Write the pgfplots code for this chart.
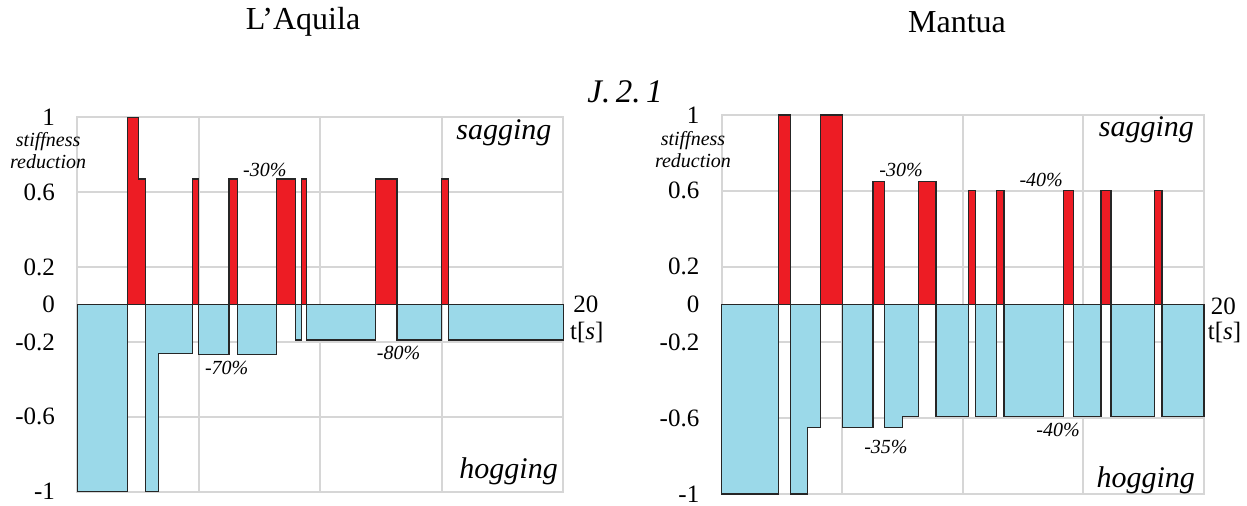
\documentclass[border=0pt]{standalone}
\usepackage{fontspec}
\setmainfont{Liberation Serif}
\usepackage{pgfplots}
\pgfplotsset{compat=1.18}
\definecolor{sagred}{RGB}{237,28,36}
\definecolor{hogblue}{RGB}{155,217,233}
\definecolor{gridgray}{RGB}{214,214,214}
\pgfplotsset{
  myax/.style={scale only axis, anchor=south west,
    xmin=0, xmax=20, ymin=-1, ymax=1,
    xtick={0,5,10,15,20}, xticklabels={},
    ytick={-1,-0.6,-0.2,0,0.2,0.6,1},
    yticklabels={-1,-0.6,-0.2,0,0.2,0.6,1},
    grid=major, grid style={gridgray, line width=0.95pt},
    axis line style={gridgray, line width=0.95pt},
    major tick length=0pt, clip=false,
    yticklabel style={font=\fontsize{12.5}{14}\selectfont, inner sep=0pt, xshift=-11pt}},
  rb/.style={fill=sagred, draw=black!85, line width=0.6pt, mark=none},
  bb/.style={fill=hogblue, draw=black!85, line width=0.6pt, mark=none},
}
\newcommand{\pct}[1]{\fontsize{10}{12}\selectfont\itshape #1}
\newcommand{\bigital}[1]{\fontsize{15}{17}\selectfont\itshape #1}
\begin{document}
\begin{tikzpicture}[x=1pt,y=1pt]
\path[use as bounding box] (0,0) rectangle (623.5,252.5);
\node[font=\fontsize{16}{18}\selectfont] at (151.5,241.5) {L’Aquila};
\node[font=\fontsize{16}{18}\selectfont] at (478.5,241.5) {Mantua};
\node[font=\fontsize{16.5}{18}\selectfont\itshape] at (312.5,206.5) {J.\,2.\,1};
% ---------------- L'Aquila ----------------
\begin{axis}[myax, at={(38.65pt,6.65pt)}, width=243pt, height=187.2pt]
% sagging (red)
\addplot[rb] coordinates {(2.07,0) (2.07,1) (2.51,1) (2.51,0.67) (2.80,0.67) (2.80,0)} -- cycle;
\addplot[rb] coordinates {(4.75,0) (4.75,0.67) (5.00,0.67) (5.00,0)} -- cycle;
\addplot[rb] coordinates {(6.24,0) (6.24,0.67) (6.60,0.67) (6.60,0)} -- cycle;
\addplot[rb] coordinates {(8.21,0) (8.21,0.67) (8.99,0.67) (8.99,0)} -- cycle;
\addplot[rb] coordinates {(9.22,0) (9.22,0.67) (9.42,0.67) (9.42,0)} -- cycle;
\addplot[rb] coordinates {(12.26,0) (12.26,0.67) (13.16,0.67) (13.16,0)} -- cycle;
\addplot[rb] coordinates {(14.98,0) (14.98,0.67) (15.27,0.67) (15.27,0)} -- cycle;
% hogging (blue)
\addplot[bb] coordinates {(0,0) (0,-1) (2.07,-1) (2.07,0)} -- cycle;
\addplot[bb] coordinates {(2.80,0) (2.80,-1) (3.33,-1) (3.33,-0.26) (4.75,-0.26) (4.75,0)} -- cycle;
\addplot[bb] coordinates {(5.00,0) (5.00,-0.265) (6.24,-0.265) (6.24,0)} -- cycle;
\addplot[bb] coordinates {(6.60,0) (6.60,-0.265) (8.21,-0.265) (8.21,0)} -- cycle;
\addplot[bb] coordinates {(8.99,0) (8.99,-0.19) (9.22,-0.19) (9.22,0)} -- cycle;
\addplot[bb] coordinates {(9.42,0) (9.42,-0.19) (12.26,-0.19) (12.26,0)} -- cycle;
\addplot[bb] coordinates {(13.16,0) (13.16,-0.19) (14.98,-0.19) (14.98,0)} -- cycle;
\addplot[bb] coordinates {(15.27,0) (15.27,-0.19) (20,-0.19) (20,0)} -- cycle;
\node at (axis cs:7.72,0.72) {\pct{-30\%}};
\node at (axis cs:6.15,-0.34) {\pct{-70\%}};
\node at (axis cs:13.22,-0.26) {\pct{-80\%}};
\node[anchor=east, inner sep=0pt] at (axis cs:19.53,0.92) {\bigital{sagging}};
\node[anchor=east, inner sep=0pt] at (axis cs:19.79,-0.89) {\bigital{hogging}};
\node[font=\fontsize{12.5}{14}\selectfont] at (axis cs:20.93,0) {20};
\node[font=\fontsize{12.5}{14}\selectfont] at (axis cs:20.97,-0.147) {t[\textit{s}]};
\node[align=center, font=\fontsize{10}{11}\selectfont\itshape] at (axis cs:-1.2,0.82) {stiffness\\reduction};
\end{axis}
% ---------------- Mantua ----------------
\begin{axis}[myax, at={(360.85pt,5.5pt)}, width=241.15pt, height=189.5pt]
\addplot[rb] coordinates {(2.34,0) (2.34,1) (2.86,1) (2.86,0)} -- cycle;
\addplot[rb] coordinates {(4.11,0) (4.11,1) (5.00,1) (5.00,0)} -- cycle;
\addplot[rb] coordinates {(6.27,0) (6.27,0.65) (6.75,0.65) (6.75,0)} -- cycle;
\addplot[rb] coordinates {(8.16,0) (8.16,0.65) (8.89,0.65) (8.89,0)} -- cycle;
\addplot[rb] coordinates {(10.23,0) (10.23,0.6) (10.54,0.6) (10.54,0)} -- cycle;
\addplot[rb] coordinates {(11.41,0) (11.41,0.6) (11.71,0.6) (11.71,0)} -- cycle;
\addplot[rb] coordinates {(14.17,0) (14.17,0.6) (14.59,0.6) (14.59,0)} -- cycle;
\addplot[rb] coordinates {(15.73,0) (15.73,0.6) (16.14,0.6) (16.14,0)} -- cycle;
\addplot[rb] coordinates {(17.94,0) (17.94,0.6) (18.26,0.6) (18.26,0)} -- cycle;
\addplot[bb] coordinates {(0,0) (0,-1) (2.34,-1) (2.34,0)} -- cycle;
\addplot[bb] coordinates {(2.86,0) (2.86,-1) (3.55,-1) (3.55,-0.65) (4.11,-0.65) (4.11,0)} -- cycle;
\addplot[bb] coordinates {(5.00,0) (5.00,-0.65) (6.27,-0.65) (6.27,0)} -- cycle;
\addplot[bb] coordinates {(6.75,0) (6.75,-0.65) (7.49,-0.65) (7.49,-0.59) (8.16,-0.59) (8.16,0)} -- cycle;
\addplot[bb] coordinates {(8.89,0) (8.89,-0.59) (10.23,-0.59) (10.23,0)} -- cycle;
\addplot[bb] coordinates {(10.54,0) (10.54,-0.59) (11.41,-0.59) (11.41,0)} -- cycle;
\addplot[bb] coordinates {(11.71,0) (11.71,-0.59) (14.17,-0.59) (14.17,0)} -- cycle;
\addplot[bb] coordinates {(14.59,0) (14.59,-0.59) (15.73,-0.59) (15.73,0)} -- cycle;
\addplot[bb] coordinates {(16.14,0) (16.14,-0.59) (17.94,-0.59) (17.94,0)} -- cycle;
\addplot[bb] coordinates {(18.26,0) (18.26,-0.59) (20,-0.59) (20,0)} -- cycle;
\node at (axis cs:7.44,0.71) {\pct{-30\%}};
\node at (axis cs:13.25,0.655) {\pct{-40\%}};
\node at (axis cs:6.81,-0.75) {\pct{-35\%}};
\node at (axis cs:13.95,-0.66) {\pct{-40\%}};
\node[anchor=east, inner sep=0pt] at (axis cs:19.6,0.92) {\bigital{sagging}};
\node[anchor=east, inner sep=0pt] at (axis cs:19.64,-0.93) {\bigital{hogging}};
\node[font=\fontsize{12.5}{14}\selectfont] at (axis cs:20.8,-0.01) {20};
\node[font=\fontsize{12.5}{14}\selectfont] at (axis cs:20.85,-0.15) {t[\textit{s}]};
\node[align=center, font=\fontsize{10}{11}\selectfont\itshape] at (axis cs:-1.19,0.82) {stiffness\\reduction};
\end{axis}
\end{tikzpicture}
\end{document}
